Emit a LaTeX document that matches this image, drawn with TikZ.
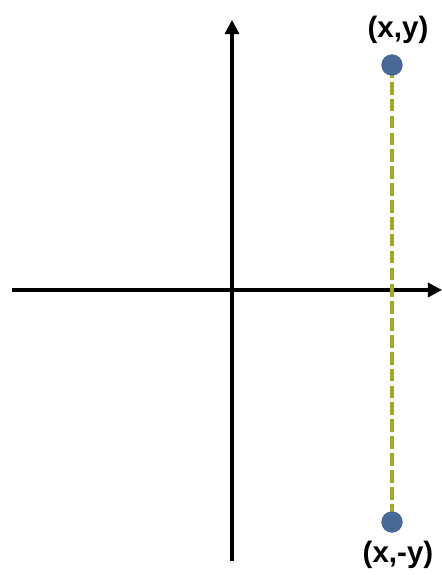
\documentclass[tikz,border=0pt]{standalone}
\usepackage{fontspec}
\setmainfont{Liberation Sans}
\usetikzlibrary{arrows.meta}
\definecolor{dotblue}{RGB}{74,104,150}
\definecolor{dashgreen}{RGB}{160,170,40}
\tikzset{
  axis/.style={line width=2.2pt, -{Triangle[length=10pt,width=10pt]}},
  pt/.style={circle, fill=dotblue, inner sep=0pt, minimum size=15pt},
  ptlabel/.style={font=\bfseries\fontsize{21}{25}\selectfont},
  mirror/.style={dashgreen, line width=2.2pt, dash pattern=on 9pt off 3pt}
}
\begin{document}
\begin{tikzpicture}[x=0.025cm,y=-0.025cm]
  \useasboundingbox (0,0) rectangle (442,575);
  % axes
  \coordinate (xstart) at (12,290);
  \coordinate (xend) at (442,290);
  \coordinate (ystart) at (232,561);
  \coordinate (yend) at (232,20);
  \draw[axis] (xstart) -- (xend);
  \draw[axis] (ystart) -- (yend);
  % mirrored points
  \node[pt] (top) at (392,65) {};
  \node[pt] (bot) at (392,522) {};
  \draw[mirror] (top.center) -- (bot.center);
  \node[pt] at (top) {};
  \node[pt] at (bot) {};
  \node[ptlabel] (toplabel) at (398,30) {(x,y)};
  \node[ptlabel] (botlabel) at (398,555) {(x,-y)};
\end{tikzpicture}
\end{document}
